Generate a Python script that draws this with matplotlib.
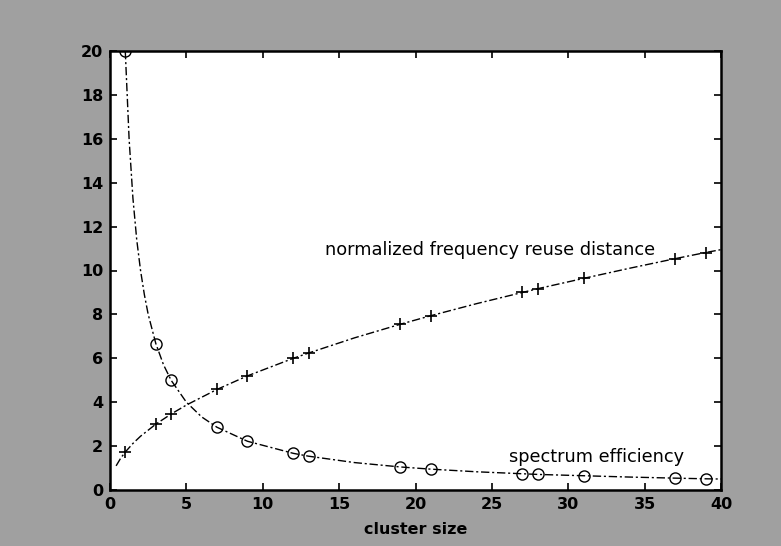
import matplotlib
matplotlib.use("Agg")
import matplotlib.pyplot as plt
import numpy as np

# cluster sizes (marker positions)
cluster = [1, 3, 4, 7, 9, 12, 13, 19, 21, 27, 28, 31, 37, 39]
reuse_dist = [1.73, 3.0, 3.46, 4.58, 5.2, 6.0, 6.24, 7.55, 7.94, 9.0, 9.17, 9.64, 10.54, 10.82]
spec_eff = [20.0, 6.67, 5.0, 2.86, 2.22, 1.67, 1.54, 1.05, 0.95, 0.74, 0.71, 0.65, 0.54, 0.51]

# curve readings (continuous lines)
reuse_curve_x = [0.4, 0.7, 1, 1.5, 2, 3, 4, 5, 7, 9, 12, 13, 16, 19, 21, 24, 27, 28, 31, 34, 37, 39, 40]
reuse_curve_y = [1.1, 1.45, 1.73, 2.12, 2.45, 3.0, 3.46, 3.87, 4.58, 5.2, 6.0, 6.24, 6.93, 7.55, 7.94, 8.49, 9.0, 9.17, 9.64, 10.1, 10.54, 10.82, 10.95]
spec_curve_x = [1, 1.25, 1.5, 1.75, 2, 2.25, 2.5, 3, 3.5, 4, 5, 6, 7, 9, 12, 13, 16, 19, 21, 24, 27, 28, 31, 34, 37, 39, 40]
spec_curve_y = [20.0, 16.0, 13.3, 11.4, 10.0, 8.9, 8.0, 6.67, 5.71, 5.0, 4.0, 3.33, 2.86, 2.22, 1.67, 1.54, 1.25, 1.05, 0.95, 0.83, 0.74, 0.71, 0.65, 0.59, 0.54, 0.51, 0.5]

xticks = [0, 5, 10, 15, 20, 25, 30, 35, 40]
yticks = [0, 2, 4, 6, 8, 10, 12, 14, 16, 18, 20]

plt.rcParams['font.family'] = ['DejaVu Sans']

fig = plt.figure(figsize=(7.81, 5.46), dpi=100, facecolor='#a0a0a0')
ax = fig.add_axes([110/781, 1-490/546, 611/781, 439/546])
ax.set_facecolor('white')

ax.plot(reuse_curve_x, reuse_curve_y, color='black', lw=1.0, ls=(0, (6, 2, 1.5, 2)))
ax.plot(cluster, reuse_dist, ls='none', marker='+', ms=9, mew=1.2, color='black')
ax.plot(spec_curve_x, spec_curve_y, color='black', lw=1.0, ls=(0, (6, 2, 1.5, 2)))
ax.plot(cluster, spec_eff, ls='none', marker='o', ms=8, mew=1.0, mfc='none', mec='black')

ax.text(14.1, 10.95, 'normalized frequency reuse distance', fontsize=12.8, color='black', va='center')
ax.text(26.1, 1.5, 'spectrum efficiency', fontsize=12.8, color='black', va='center')

ax.set_xlim(0, 40)
ax.set_ylim(0, 20)
ax.set_xticks(xticks)
ax.set_yticks(yticks)
ax.tick_params(direction='in', top=True, right=True, length=5, width=1.2,
               labelsize=11.5, labelcolor='black', pad=5)
for lab in ax.get_xticklabels() + ax.get_yticklabels():
    lab.set_fontweight('bold')
for s in ax.spines.values():
    s.set_linewidth(1.8)
ax.set_xlabel('cluster size', fontsize=11.5, fontweight='bold', labelpad=7)

fig.savefig('out.png', dpi=100, facecolor=fig.get_facecolor())
